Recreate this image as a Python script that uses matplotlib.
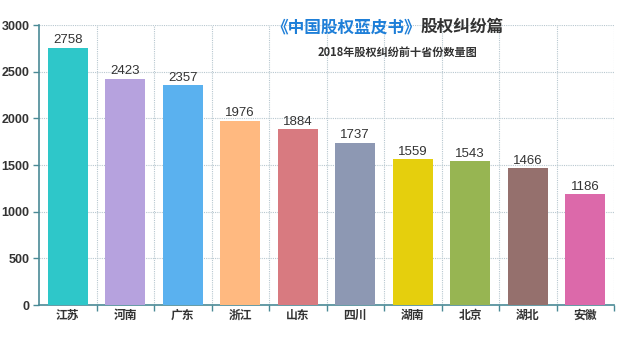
import matplotlib
matplotlib.use("Agg")
import matplotlib.pyplot as plt

plt.rcParams['font.family'] = ['Noto Sans CJK SC', 'DejaVu Sans']
NUM_FONT = ['Liberation Sans', 'DejaVu Sans']

# 2018 top-10 provinces by number of equity disputes
provinces = ['江苏', '河南', '广东', '浙江', '山东', '四川', '湖南', '北京', '湖北', '安徽']
counts = [2758, 2423, 2357, 1976, 1884, 1737, 1559, 1543, 1466, 1186]
colors = ['#2ec7c9', '#b6a2de', '#5ab1ef', '#ffb980', '#d87a80',
          '#8d98b3', '#e5cf0d', '#97b552', '#95706d', '#dc69aa']
yticks = [0, 500, 1000, 1500, 2000, 2500, 3000]

fig = plt.figure(figsize=(6.4, 3.44), dpi=100)
ax = fig.add_axes([39 / 640, 1 - 305 / 344, 575 / 640, 280 / 344])

x = range(len(provinces))
ax.bar(x, counts, width=0.7, color=colors, zorder=3)
for i, v in enumerate(counts):
    ax.text(i, v + 15, str(v), ha='center', va='bottom', fontsize=9.5,
            family=NUM_FONT, color='#333333', zorder=4)

ax.set_xlim(-0.5, len(provinces) - 0.5)
ax.set_ylim(0, 3000)
ax.set_yticks(yticks)
ax.set_yticklabels([str(t) for t in yticks], family=NUM_FONT, fontweight='bold',
                   fontsize=9, color='#333333')
ax.set_xticks(list(x))
ax.set_xticklabels(provinces, fontsize=8.5, fontweight='bold', color='#333333')
ax.tick_params(axis='y', length=4, width=1, pad=3)
ax.tick_params(axis='x', length=0, pad=3)

# category boundary grid + horizontal grid
ax.set_xticks([i + 0.5 for i in range(len(provinces))], minor=True)
ax.grid(axis='x', which='minor', color='#b8c8d0', linestyle=(0, (1, 1)), linewidth=0.8, zorder=0)
ax.grid(axis='y', which='major', color='#b8c8d0', linestyle=(0, (1, 1)), linewidth=0.8, zorder=0)
ax.tick_params(axis='x', which='minor', length=4, color='#4a8a96', width=1)

for side in ['top', 'right']:
    ax.spines[side].set_visible(False)
ax.spines['left'].set_color('#4a8a96')
ax.spines['bottom'].set_color('#4a8a96')
ax.spines['left'].set_linewidth(1.2)
ax.spines['bottom'].set_linewidth(1.2)
ax.tick_params(axis='y', color='#4a8a96')

# title in two colours
split = 421 / 640
fig.text(split, 1 - 27 / 344, '《中国股权蓝皮书》', ha='right', va='center',
         fontsize=12, fontweight='bold', color='#1e7fd8')
fig.text(split, 1 - 27 / 344, '股权纠纷篇', ha='left', va='center',
         fontsize=12, fontweight='bold', color='#333333')
fig.text(397 / 640, 1 - 52 / 344, '2018年股权纠纷前十省份数量图', ha='center', va='center',
         fontsize=8, fontweight='bold', color='#333333')

fig.savefig('out.png', dpi=100, facecolor='white')
